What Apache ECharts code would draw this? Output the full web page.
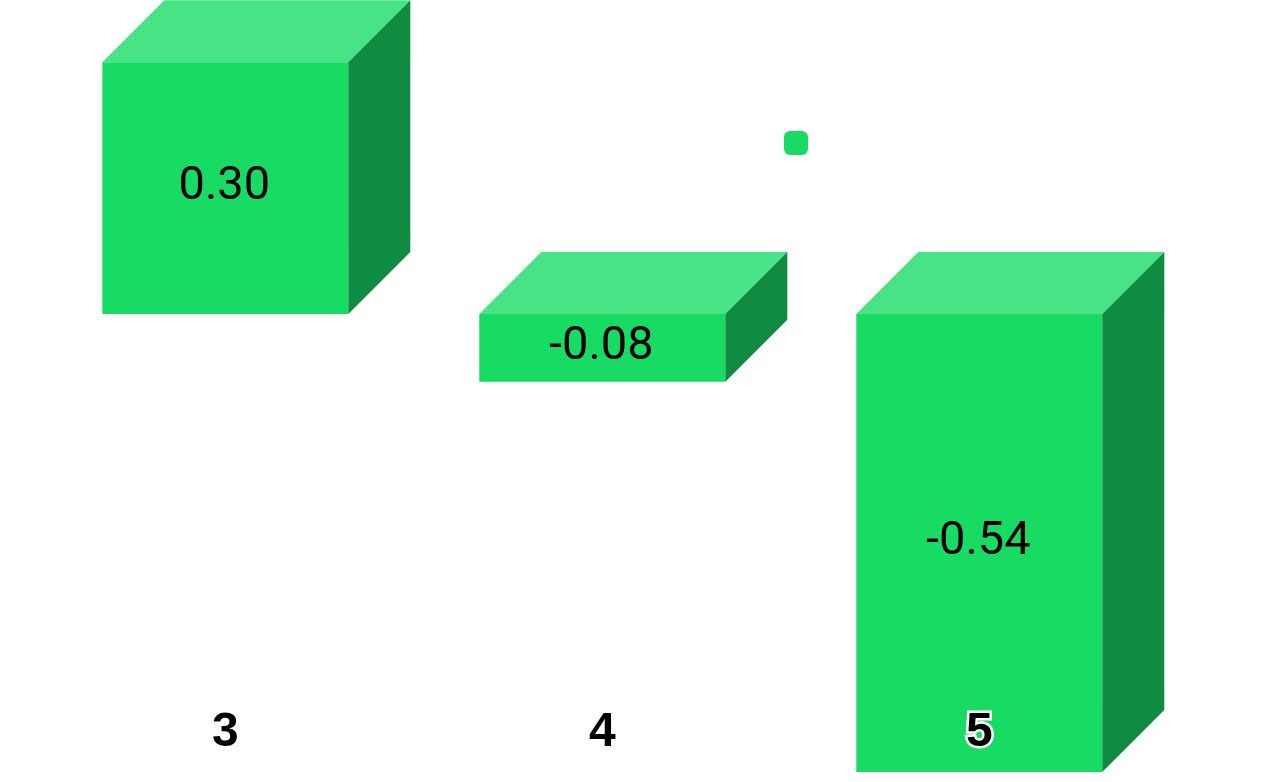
<!DOCTYPE html>
<html>
<head>
<meta charset="utf-8">
<script src="https://cdn.jsdelivr.net/npm/echarts@6/dist/echarts.min.js"></script>
<style>
  html, body { margin: 0; padding: 0; background: #fff; }
  #main { width: 1264px; height: 782px; }
</style>
</head>
<body>
<div id="main"></div>
<script>
// chart data
const categories = ['3', '4', '5']
const values = [0.297, -0.080, -0.540]
const seriesName = 'value'

const FRONT = '#18db64'
const TOP = '#48e385'
const SIDE = '#0f8c41'
const DEPTH = 62

function renderCube(params, api) {
  const idx = api.value(0)
  const val = api.value(1)
  const base = api.coord([idx, 0])
  const end = api.coord([idx, val])
  const w = api.size([1, 0])[0] * 0.6525
  const x = base[0]
  const left = x - w / 2
  const right = x + w / 2
  const top = Math.min(base[1], end[1])
  const bottom = Math.max(base[1], end[1])

  return {
    type: 'group',
    children: [
      {
        type: 'rect',
        shape: { x: left, y: top, width: w, height: bottom - top },
        style: { fill: FRONT }
      },
      {
        type: 'polygon',
        shape: { points: [[left, top], [left + DEPTH, top - DEPTH], [right + DEPTH, top - DEPTH], [right, top]] },
        style: { fill: TOP }
      },
      {
        type: 'polygon',
        shape: { points: [[right, top], [right + DEPTH, top - DEPTH], [right + DEPTH, bottom - DEPTH], [right, bottom]] },
        style: { fill: SIDE }
      },
      {
        type: 'text',
        x: x - 1,
        y: (top + bottom) / 2 - 1,
        style: {
          text: val.toFixed(2),
          fill: '#000',
          fontSize: 47,
          fontFamily: 'Roboto',
          align: 'center',
          verticalAlign: 'middle'
        }
      }
    ]
  }
}

const chart = echarts.init(document.getElementById('main'))

chart.setOption({
  animation: false,
  legend: {
    data: [seriesName],
    left: 784,
    top: 131,
    padding: 0,
    itemWidth: 24,
    itemHeight: 24,
    icon: 'roundRect',
    formatter: function () { return '' }
  },
  grid: {
    left: 36.8,
    right: 96.2,
    top: 59.6,
    bottom: 86.4
  },
  xAxis: {
    type: 'category',
    data: categories,
    z: 10,
    axisLine: { show: false, onZero: false },
    axisTick: { show: false },
    splitLine: { show: false },
    axisLabel: {
      margin: 37,
      verticalAlign: 'middle',
      color: '#000',
      fontSize: 48,
      fontWeight: 'bold',
      fontFamily: 'Liberation Sans, Arial, sans-serif',
      textBorderColor: '#fff',
      textBorderWidth: 5
    }
  },
  yAxis: {
    type: 'value',
    min: -0.45,
    max: 0.3,
    show: false,
    splitLine: { show: false }
  },
  series: [
    {
      name: seriesName,
      type: 'custom',
      renderItem: renderCube,
      itemStyle: { color: FRONT },
      encode: { x: 0, y: 1 },
      data: values.map((v, i) => [i, v])
    }
  ]
})
</script>
</body>
</html>
